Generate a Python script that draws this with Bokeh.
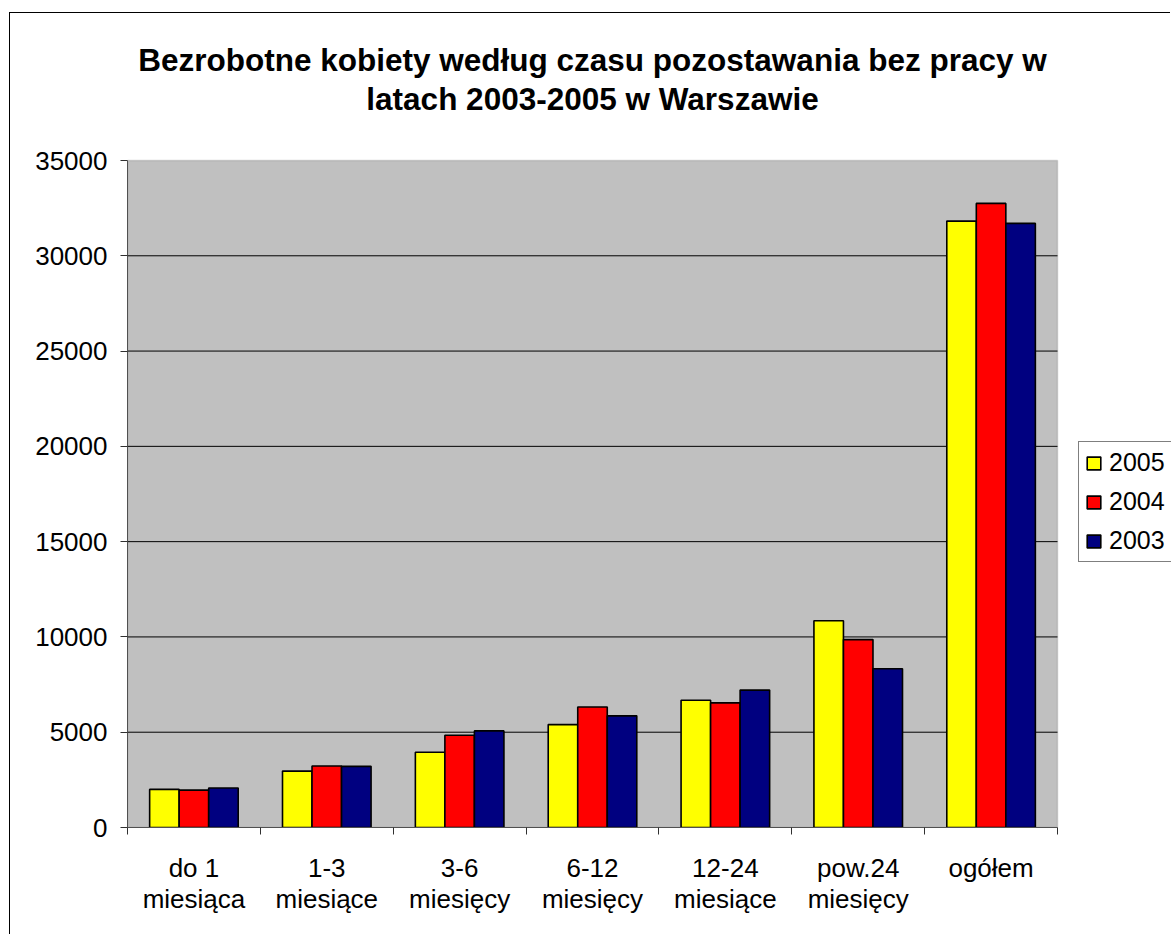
from bokeh.plotting import figure
from bokeh.models import FixedTicker, Legend, LegendItem, Range1d, Label, BoxAnnotation
from bokeh.embed import file_html
from bokeh.resources import INLINE

title_lines = ["Bezrobotne kobiety według czasu pozostawania bez pracy w",
               "latach 2003-2005 w Warszawie"]
categories = ["do 1\nmiesiąca", "1-3\nmiesiące", "3-6\nmiesięcy", "6-12\nmiesięcy",
              "12-24\nmiesiące", "pow.24\nmiesięcy", "ogółem"]
series_names = ["2005", "2004", "2003"]
values_2005 = [2000, 2960, 3950, 5400, 6680, 10850, 31820]
values_2004 = [1960, 3230, 4840, 6320, 6540, 9860, 32750]
values_2003 = [2070, 3210, 5070, 5860, 7210, 8330, 31700]
colors = ["#FFFF00", "#FF0000", "#000080"]
y_ticks = [0, 5000, 10000, 15000, 20000, 25000, 30000, 35000]

FONT = "Liberation Sans"

# layout (pixels)
FIG_W, FIG_H = 1161, 922
LEFT, BOTTOM = 117, 108
PLOT_W, PLOT_H = 930, 667          # grey plot area inside the frame
FRAME_W, FRAME_H = FIG_W - LEFT, FIG_H - BOTTOM

n = len(categories)
y_max = y_ticks[-1]
x_end = n * FRAME_W / PLOT_W
y_end = y_max * FRAME_H / PLOT_H

p = figure(width=FIG_W, height=FIG_H, output_backend="svg", toolbar_location=None,
           x_range=Range1d(0, x_end), y_range=Range1d(0, y_end),
           min_border_left=LEFT, min_border_right=0, min_border_top=0,
           min_border_bottom=BOTTOM)
p.margin = (12, 0, 0, 9)
p.styles = {"border-left": "1px solid black", "border-top": "1px solid black"}
p.title = None
p.background_fill_color = "white"
p.border_fill_color = "white"
p.outline_line_color = None
p.grid.visible = False

# grey plot area
area = BoxAnnotation(left=0, right=n, bottom=0, top=y_max, fill_color="#C0C0C0",
                     fill_alpha=1, line_color="#808080", line_width=1.5, level="image")
p.add_layout(area)

# horizontal gridlines
inner = y_ticks[1:-1]
p.segment(x0=[0] * len(inner), x1=[n] * len(inner), y0=inner, y1=inner,
          line_color="black", line_width=1)

# bars
w = 1 / 4.5
series = [values_2005, values_2004, values_2003]
offsets = [-w, 0.0, w]
renderers = []
for vals, col, off in zip(series, colors, offsets):
    xs = [i + 0.5 + off for i in range(n)]
    r = p.vbar(x=xs, top=vals, bottom=0, width=w, fill_color=col,
               line_color="black", line_width=1.6)
    renderers.append(r)

# y axis
p.yaxis.ticker = FixedTicker(ticks=y_ticks)
p.yaxis.bounds = (0, y_max)
p.yaxis.axis_line_color = "#505050"
p.yaxis.major_tick_line_color = "#303030"
p.yaxis.major_tick_out = 7
p.yaxis.major_tick_in = 0
p.yaxis.minor_tick_line_color = None
p.yaxis.major_label_text_font = FONT
p.yaxis.major_label_text_font_size = "26px"
p.yaxis.major_label_text_color = "black"
p.yaxis.major_label_standoff = 13

# x axis: labels at centres, ticks at boundaries
centres = [i + 0.5 for i in range(n)]
bounds = list(range(n + 1))
p.xaxis.ticker = FixedTicker(ticks=centres, minor_ticks=bounds)
p.xaxis.bounds = (0, n)
p.xaxis.major_label_overrides = {c: lab for c, lab in zip(centres, categories)}
p.xaxis.axis_line_color = "#505050"
p.xaxis.major_tick_line_color = None
p.xaxis.minor_tick_line_color = "#303030"
p.xaxis.minor_tick_out = 7
p.xaxis.minor_tick_in = 0
p.xaxis.major_label_text_font = FONT
p.xaxis.major_label_text_font_size = "26px"
p.xaxis.major_label_text_color = "black"
p.xaxis.major_label_standoff = 18
p.xaxis.major_label_text_line_height = 1.04

# title (two centred lines over the plot area)
for txt, ys in zip(title_lines, [768, 729]):
    p.add_layout(Label(x=n / 2, y=ys, x_units="data", y_units="screen", text=txt,
                       text_align="center", text_baseline="alphabetic",
                       text_font=FONT, text_font_size="31.5px", text_font_style="bold",
                       text_color="black"))

# legend
items = [LegendItem(label=s, renderers=[r]) for s, r in zip(series_names, renderers)]
legend = Legend(items=items, location=(951, 265), orientation="vertical")
legend.label_text_font = FONT
legend.label_text_font_size = "25px"
legend.label_text_color = "black"
legend.glyph_width = 17
legend.glyph_height = 16
legend.label_standoff = 7
legend.padding = 6
legend.spacing = 10
legend.margin = 0
legend.border_line_color = "black"
legend.border_line_width = 1
legend.background_fill_color = "white"
legend.background_fill_alpha = 1
p.add_layout(legend, "center")

open("out.html", "w").write(file_html(p, INLINE))
